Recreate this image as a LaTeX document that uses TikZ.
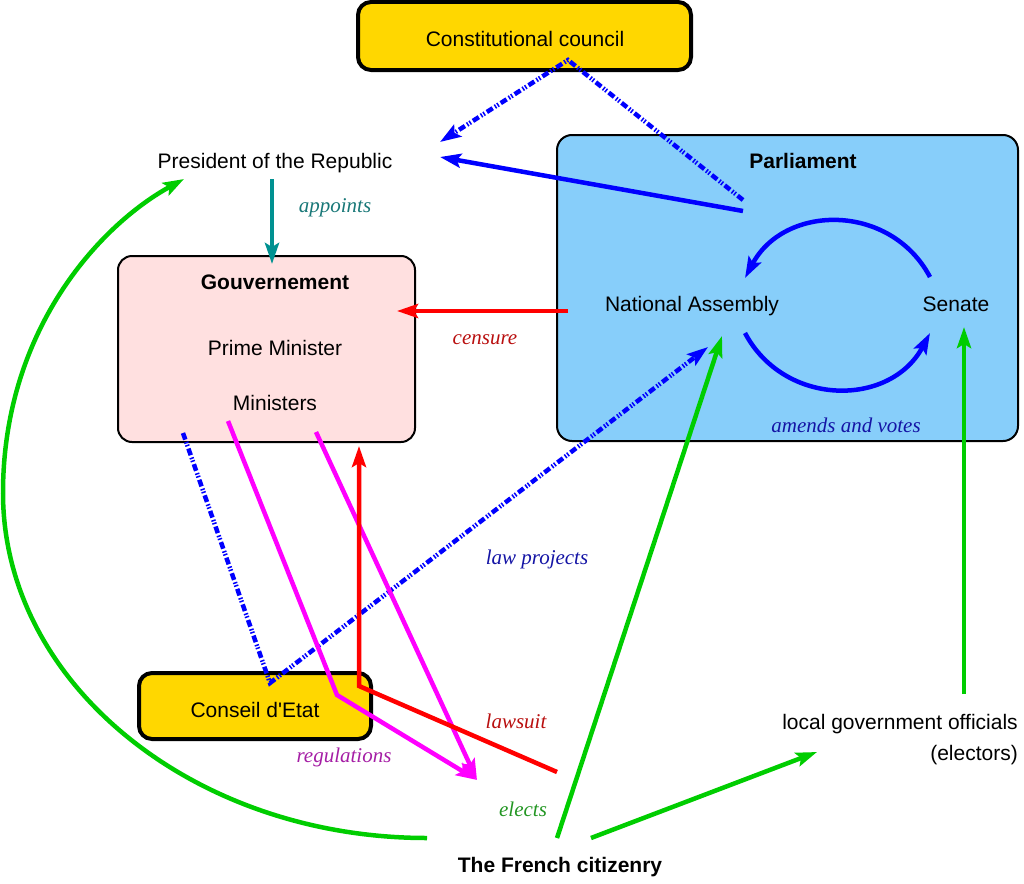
\documentclass[tikz,border=0pt]{standalone}
\usepackage{fontspec}
\setmainfont{Liberation Serif}
\setsansfont{Liberation Sans}
\newfontfamily\plainsans{Liberation Sans}
\usetikzlibrary{arrows.meta}
\definecolor{gold}{RGB}{255,215,0}
\definecolor{skyb}{RGB}{135,206,250}
\definecolor{pinkb}{RGB}{255,224,224}
\definecolor{tealA}{RGB}{0,145,145}
\definecolor{tealT}{RGB}{25,120,120}
\definecolor{redT}{RGB}{185,15,15}
\definecolor{blueT}{RGB}{20,20,165}
\definecolor{purT}{RGB}{165,30,165}
\definecolor{greenT}{RGB}{35,150,35}
\definecolor{greenA}{RGB}{0,205,0}
\definecolor{magA}{RGB}{255,0,255}
\definecolor{redA}{RGB}{255,0,0}
\definecolor{blueA}{RGB}{0,0,255}
\tikzset{
  lbl/.style={font=\fontsize{21}{25}\selectfont\sffamily, anchor=base, inner sep=0pt},
  blbl/.style={lbl, font=\fontsize{21}{25}\selectfont\sffamily\bfseries},
  ilbl/.style={font=\fontsize{21}{25}\selectfont\rmfamily\itshape, anchor=base, inner sep=0pt},
  goldbox/.style={draw=black, line width=4pt, fill=gold, rounded corners=13pt, inner sep=0pt},
  thinbox/.style={draw=black, line width=2pt, rounded corners=15pt, inner sep=0pt},
  conn/.style={line width=4.5pt, line join=miter},
  dd/.style={conn, blueA, dash pattern=on 7pt off 2.5pt on 1.5pt off 1.5pt on 1.5pt off 2.5pt},
  >={Stealth[length=21pt,width=14pt,inset=4pt]},
}
\begin{document}
\begin{tikzpicture}[x=1pt,y=-1pt]
\useasboundingbox (0,0) rectangle (1024,883);
% boxes
\node[thinbox, fill=skyb, minimum width=461pt, minimum height=306pt] (parl) at (787.5,288) {};
\node[thinbox, fill=pinkb, minimum width=297pt, minimum height=186pt, rounded corners=14pt] (gov) at (266.5,349) {};
\node[goldbox, minimum width=333pt, minimum height=68pt] (cc) at (524.5,36) {};
\node[goldbox, minimum width=232pt, minimum height=66pt] (ce) at (255,706) {};
% texts
\node[lbl] (cct) at (525,47) {Constitutional council};
\node[lbl] (pres) at (275,168) {President of the Republic};
\node[blbl] (parlt) at (803,168) {Parliament};
\node[lbl] (na) at (692,311) {National Assembly};
\node[lbl] (sen) at (956,311) {Senate};
\node[blbl] (govt) at (275,289) {Gouvernement};
\node[lbl] (pm) at (275,355) {Prime Minister};
\node[lbl] (min) at (275,410) {Ministers};
\node[lbl, font=\fontsize{21}{25}\selectfont\plainsans] (cet) at (255,717) {Conseil d'Etat};
\node[lbl] (loc) at (900,729) {local government officials};
\node[lbl, anchor=base east] (elec) at (1018,760) {(electors)};
\node[blbl] (cit) at (560,872) {The French citizenry};
\node[ilbl, text=tealT] (lapp) at (335,212) {appoints};
\node[ilbl, text=redT] (lcen) at (485,344) {censure};
\node[ilbl, text=blueT] (lamv) at (846,432) {amends and votes};
\node[ilbl, text=blueT] (llaw) at (537,564) {law projects};
\node[ilbl, text=redT] (llaws) at (516,728) {lawsuit};
\node[ilbl, text=purT] (lreg) at (344,762) {regulations};
\node[ilbl, text=greenT] (lel) at (523,816) {elects};
% connector end points
\coordinate (ccpeak) at (568,60);
\coordinate (parlA) at (743,200);
\coordinate (presA) at (440,142);
\coordinate (parlB) at (743,211);
\coordinate (presB) at (440,157);
\coordinate (presC) at (272,179);
\coordinate (govA) at (272,264);
\coordinate (parlC) at (568,311);
\coordinate (govB) at (397,311);
\coordinate (senA) at (930,277);
\coordinate (naA) at (745,278);
\coordinate (naB) at (745,333);
\coordinate (senB) at (930,333);
\coordinate (govC) at (183,433);
\coordinate (ceA) at (270,683);
\coordinate (naC) at (708,347);
\coordinate (govD) at (228,421);
\coordinate (ceB) at (337,695);
\coordinate (citA) at (477,780);
\coordinate (govE) at (316,432);
\coordinate (citB) at (557,772);
\coordinate (ceC) at (359,686);
\coordinate (govF) at (359,446);
\coordinate (citC) at (427,838);
\coordinate (leftpt) at (3,493);
\coordinate (presD) at (184,179);
\coordinate (citD) at (557,838);
\coordinate (naD) at (722,336);
\coordinate (citE) at (591,838);
\coordinate (locA) at (817,752);
\coordinate (locB) at (964,694);
\coordinate (senC) at (964,327);
% connectors
\draw[dd, ->] (parlA) -- (ccpeak) -- (presA);
\draw[conn, blueA, ->] (parlB) -- (presB);
\draw[conn, tealA, ->] (presC) -- (govA);
\draw[conn, redA, ->] (parlC) -- (govB);
\draw[conn, blueA, ->] (senA) .. controls (890.5,202.6) and (784.5,203.6) .. (naA);
\draw[conn, blueA, ->] (naB) .. controls (784.5,407.4) and (890.5,407.4) .. (senB);
\draw[dd, ->] (govC) -- (ceA) -- (naC);
\draw[conn, magA, ->] (govD) -- (ceB) -- (citA);
\draw[conn, magA, ->] (govE) -- (citA);
\draw[conn, redA, ->] (citB) -- (ceC) -- (govF);
\draw[conn, greenA, ->] (citC) .. controls (193,838) and (3,683) .. (leftpt) .. controls (3,330) and (100,225) .. (presD);
\draw[conn, greenA, ->] (citD) -- (naD);
\draw[conn, greenA, ->] (citE) -- (locA);
\draw[conn, greenA, ->] (locB) -- (senC);
\end{tikzpicture}
\end{document}
